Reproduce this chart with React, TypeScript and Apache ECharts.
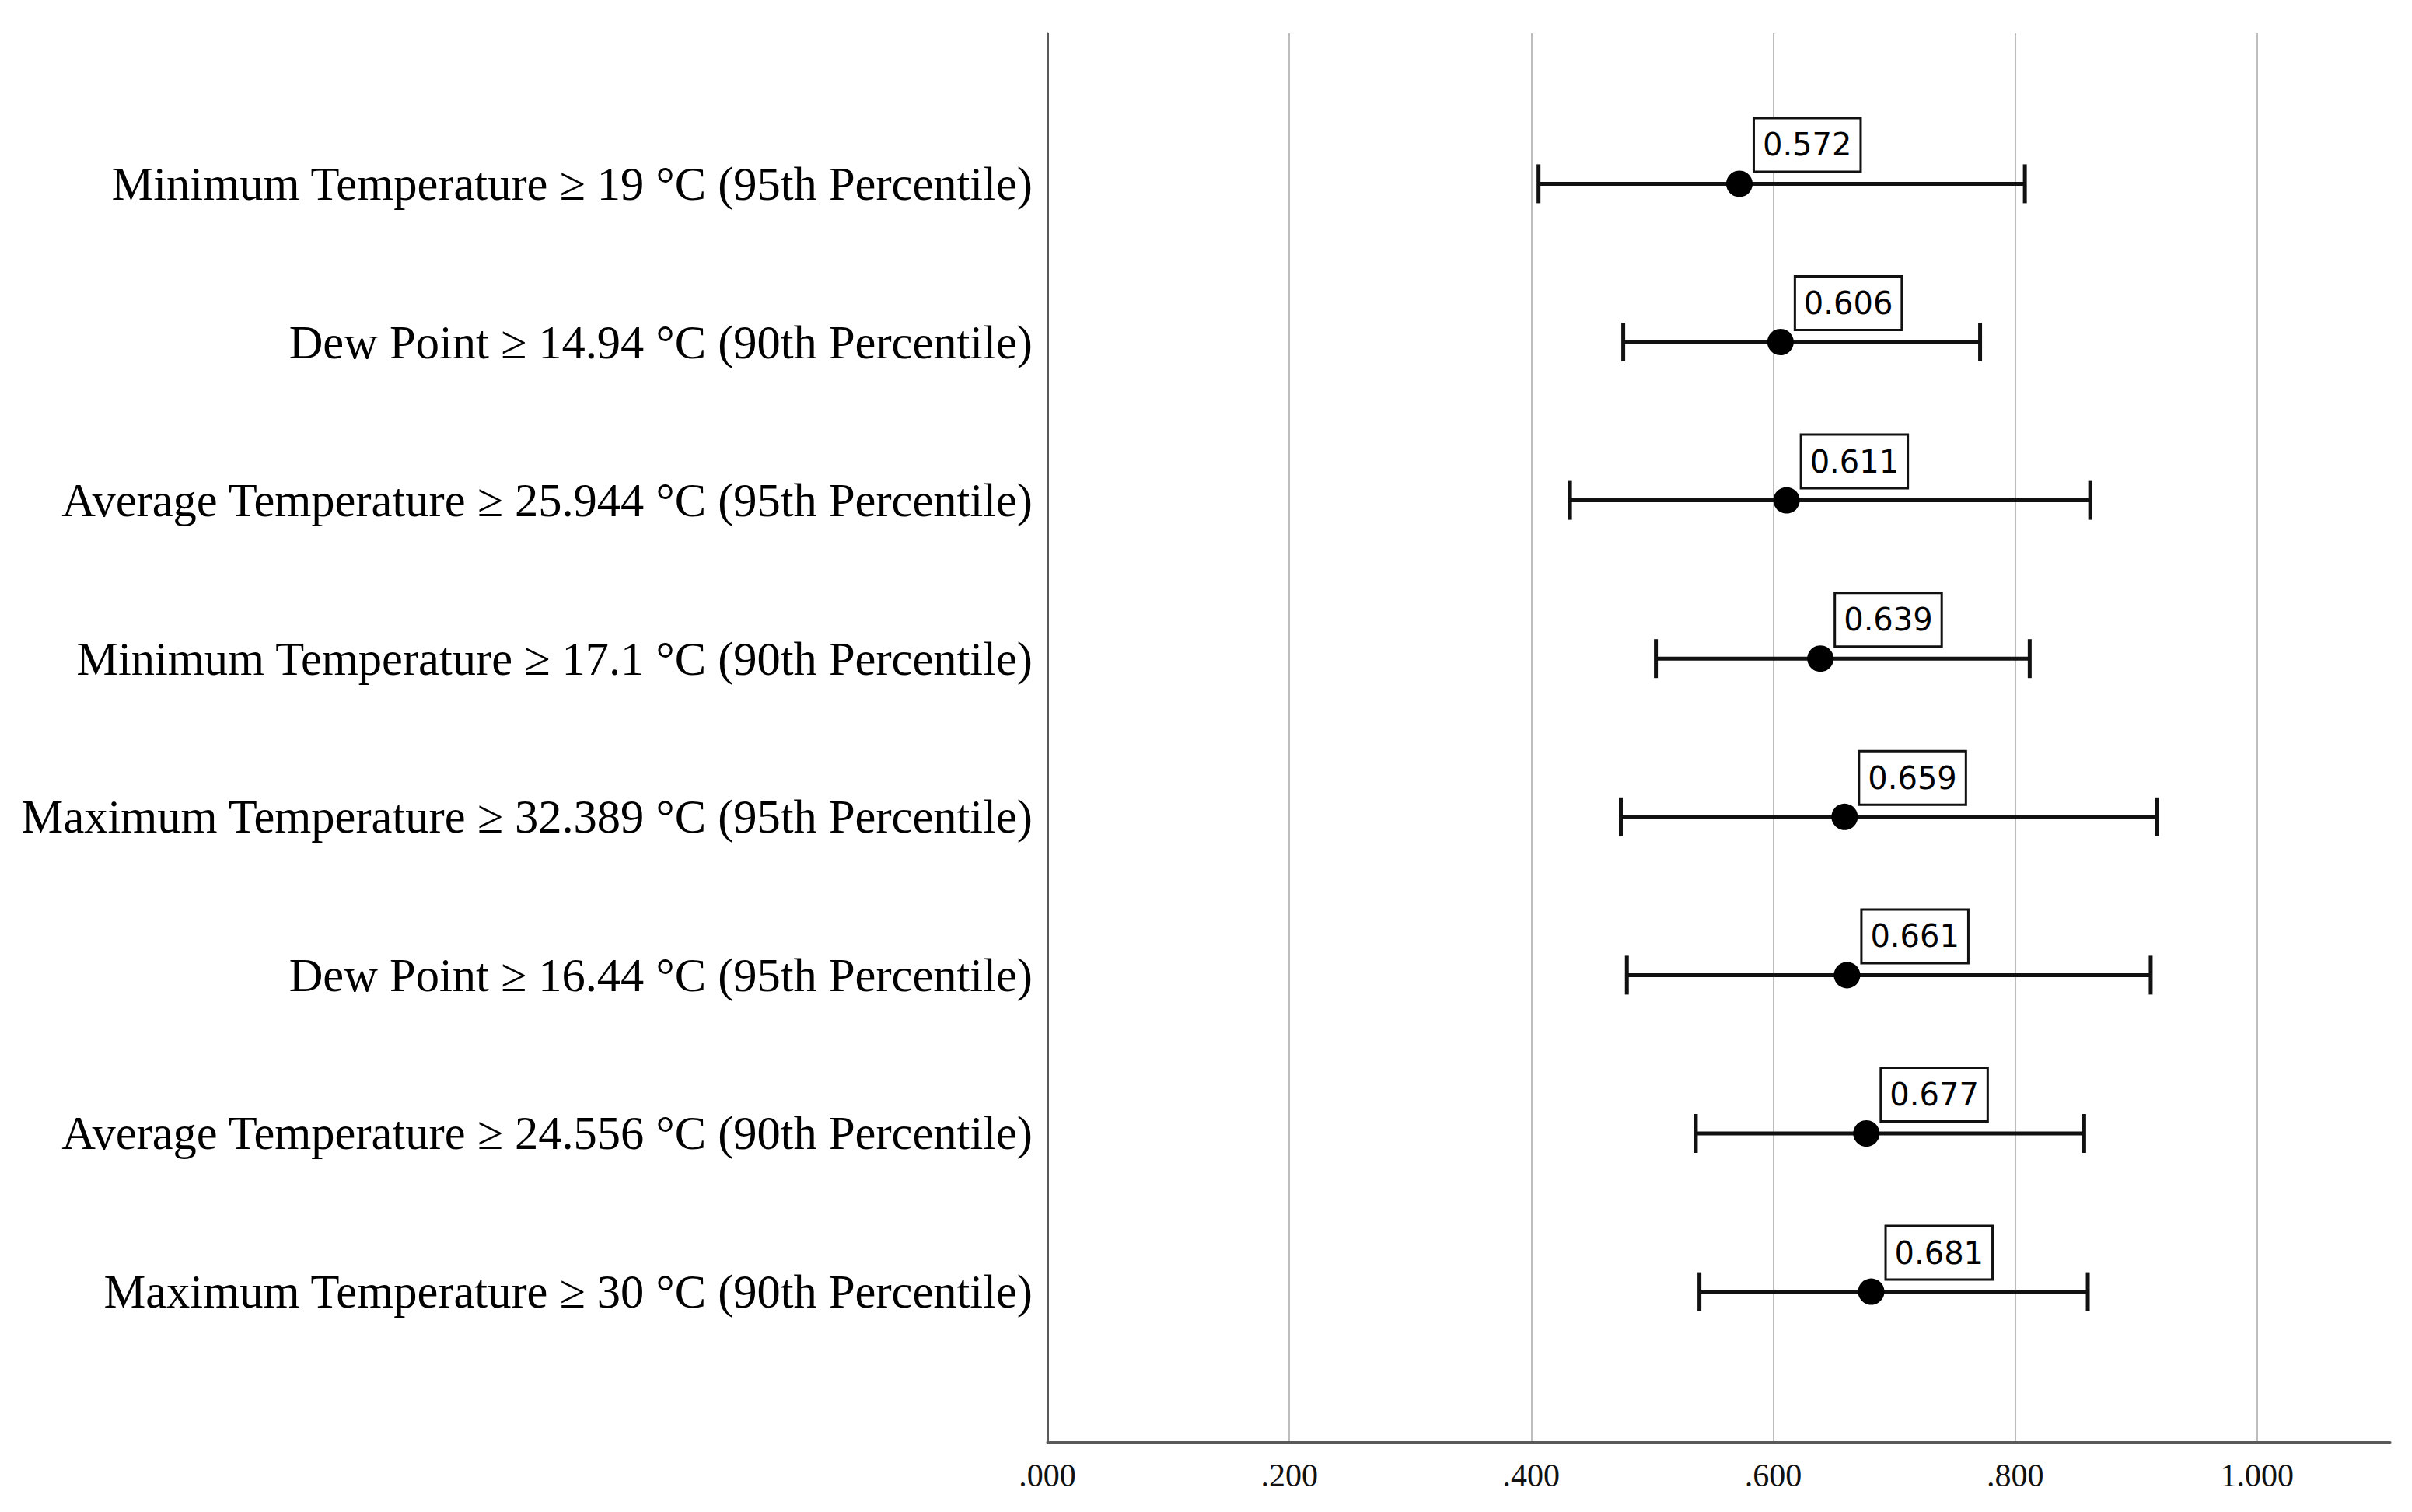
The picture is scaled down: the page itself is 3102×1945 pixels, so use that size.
import React, { useEffect, useRef } from "react";
import * as echarts from "echarts";

const categories = [
  "Minimum Temperature ≥ 19 °C (95th Percentile)",
  "Dew Point ≥ 14.94 °C (90th Percentile)",
  "Average Temperature ≥ 25.944 °C (95th Percentile)",
  "Minimum Temperature ≥ 17.1 °C (90th Percentile)",
  "Maximum Temperature ≥ 32.389 °C (95th Percentile)",
  "Dew Point ≥ 16.44 °C (95th Percentile)",
  "Average Temperature ≥ 24.556 °C (90th Percentile)",
  "Maximum Temperature ≥ 30 °C (90th Percentile)",
];
const estimates = [0.572, 0.606, 0.611, 0.639, 0.659, 0.661, 0.677, 0.681];
const lowerCI = [0.406, 0.476, 0.432, 0.503, 0.474, 0.479, 0.536, 0.539];
const upperCI = [0.808, 0.771, 0.862, 0.812, 0.917, 0.912, 0.857, 0.860];
const xTicks = [0, 0.2, 0.4, 0.6, 0.8, 1.0];

export default function App() {
  const ref = useRef<HTMLDivElement>(null);
  useEffect(() => {
    document.body.style.margin = "0";
    const chart = echarts.init(ref.current!, undefined, { renderer: "svg" });
    const errData = categories.map((_, i) => [i, lowerCI[i], upperCI[i]]);
    const ptData = categories.map((_, i) => [estimates[i], i]);
    chart.setOption({
      animation: false,
      backgroundColor: "#ffffff",
      grid: { left: 1347, right: 28, top: 43, bottom: 90, containLabel: false },
      xAxis: {
        type: "value",
        min: 0,
        max: 1.11,
        interval: 0.2,
        axisLine: { show: true, onZero: false, lineStyle: { color: "#5a5a5a", width: 3 } },
        axisTick: { show: false },
        axisLabel: {
          customValues: xTicks,
          formatter: (v: number) => v.toFixed(3).replace(/^0/, ""),
          fontFamily: "Liberation Serif",
          fontSize: 42,
          color: "#111",
          margin: 22,
        },
        splitLine: {
          show: true,
          showMinLine: false,
          showMaxLine: false,
          lineStyle: { color: "#bdbdbd", width: 2 },
        },
      },
      yAxis: {
        type: "value",
        inverse: true,
        min: -0.95,
        max: 7.95,
        axisLine: { show: true, onZero: false, lineStyle: { color: "#5a5a5a", width: 3 } },
        axisTick: { show: false },
        splitLine: { show: false },
        axisLabel: {
          customValues: categories.map((_, i) => i),
          formatter: (v: number) => categories[Math.round(v)] ?? "",
          fontFamily: "Liberation Serif",
          fontSize: 60.5,
          color: "#000",
          margin: 19,
        },
      },
      series: [
        {
          type: "custom",
          z: 2,
          data: errData,
          encode: { x: [1, 2], y: 0 },
          renderItem: (params: any, api: any) => {
            const i = api.value(0);
            const lo = api.coord([api.value(1), i]);
            const hi = api.coord([api.value(2), i]);
            const h = 25;
            const style = { stroke: "#111", lineWidth: 5 };
            return {
              type: "group",
              children: [
                { type: "line", shape: { x1: lo[0], y1: lo[1], x2: hi[0], y2: hi[1] }, style },
                { type: "line", shape: { x1: lo[0], y1: lo[1] - h, x2: lo[0], y2: lo[1] + h }, style },
                { type: "line", shape: { x1: hi[0], y1: hi[1] - h, x2: hi[0], y2: hi[1] + h }, style },
              ],
            };
          },
        },
        {
          type: "scatter",
          z: 3,
          data: ptData,
          symbol: "circle",
          symbolSize: 34,
          itemStyle: { color: "#000", opacity: 1 },
          label: {
            show: true,
            position: [37, 0],
            align: "left",
            verticalAlign: "bottom",
            formatter: (p: any) => p.value[0].toFixed(3),
            fontFamily: "DejaVu Sans",
            fontSize: 40,
            lineHeight: 40,
            color: "#000",
            opacity: 1,
            backgroundColor: "#ffffff",
            borderColor: "#111",
            borderWidth: 3,
            padding: [13, 10],
          },
        },
      ],
    });
    return () => chart.dispose();
  }, []);
  return (
    <div
      ref={ref}
      style={{ position: "fixed", left: 0, top: 0, width: 3102, height: 1945 }}
    />
  );
}
